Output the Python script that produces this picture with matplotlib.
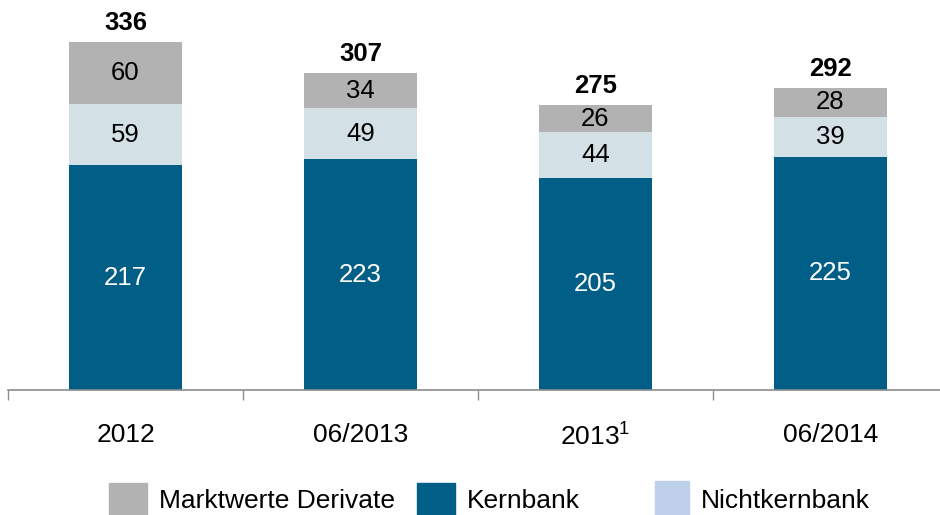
import matplotlib
matplotlib.use("Agg")
import matplotlib.pyplot as plt
from matplotlib.patches import Patch

plt.rcParams['font.family'] = ['Liberation Sans', 'DejaVu Sans']
plt.rcParams['mathtext.fontset'] = 'custom'
plt.rcParams['mathtext.rm'] = 'Liberation Sans'
plt.rcParams['mathtext.it'] = 'Liberation Sans'

categories = ['2012', '06/2013', '2013$^{1}$', '06/2014']
kernbank = [217, 223, 205, 225]
nichtkernbank = [59, 49, 44, 39]
derivate = [60, 34, 26, 28]
totals = [336, 307, 275, 292]

c_dark = '#005e87'
c_light = '#d3e0e6'
c_gray = '#b2b2b2'
c_leg_light = '#bfd0ea'

W, H = 940, 515
fig = plt.figure(figsize=(W / 100, H / 100), dpi=100)
ax = fig.add_axes([8 / W, (H - 390) / H, (W - 8) / W, 390 / H])

x = list(range(len(categories)))
bw = 0.48
b1 = ax.bar(x, kernbank, width=bw, color=c_dark, zorder=2)
bottom2 = kernbank
b2 = ax.bar(x, nichtkernbank, width=bw, bottom=bottom2, color=c_light, zorder=2)
bottom3 = [k + n for k, n in zip(kernbank, nichtkernbank)]
b3 = ax.bar(x, derivate, width=bw, bottom=bottom3, color=c_gray, zorder=2)

fs = 18.5
for i in x:
    ax.text(i, kernbank[i] / 2, str(kernbank[i]), ha='center', va='center',
            color='white', fontsize=fs)
    ax.text(i, bottom2[i] + nichtkernbank[i] / 2, str(nichtkernbank[i]),
            ha='center', va='center', color='black', fontsize=fs)
    ax.text(i, bottom3[i] + derivate[i] / 2, str(derivate[i]),
            ha='center', va='center', color='black', fontsize=fs)
    ax.annotate(str(totals[i]), (i, bottom3[i] + derivate[i]),
                xytext=(0, 8.5), textcoords='offset points',
                ha='center', va='baseline', fontsize=fs, fontweight='bold')

ax.set_xlim(-0.5, -0.5 + (W - 8) / 235)
ax.set_ylim(0, 390 / 1.0357)

for s in ['left', 'top', 'right']:
    ax.spines[s].set_visible(False)
ax.spines['bottom'].set_color('#8c8c8c')
ax.spines['bottom'].set_linewidth(1.2)
ax.set_yticks([])

ax.set_xticks([-0.5, 0.5, 1.5, 2.5])
ax.set_xticklabels([])
ax.tick_params(axis='x', which='major', length=7.5, width=1.0, color='#8c8c8c')
ax.set_xticks(x, minor=True)
ax.set_xticklabels(categories, minor=True, fontsize=19)
ax.tick_params(axis='x', which='minor', length=0, pad=24)

# Legend (three separately placed entries)
leg_items = [
    (Patch(color=c_gray), 'Marktwerte Derivate', 109, 1.45, 1.45),
    (Patch(color=c_dark), 'Kernbank', 417, 1.45, 1.45),
    (Patch(color=c_leg_light), 'Nichtkernbank', 655, 1.3, 1.75),
]
for h, lab, px, hl, hh in leg_items:
    lg = fig.legend([h], [lab], loc='center left',
                    bbox_to_anchor=(px / W, (H - 499) / H),
                    frameon=False, fontsize=19, handlelength=hl,
                    handleheight=hh, handletextpad=0.45, borderaxespad=0,
                    borderpad=0)

fig.savefig('out.png', dpi=100)
